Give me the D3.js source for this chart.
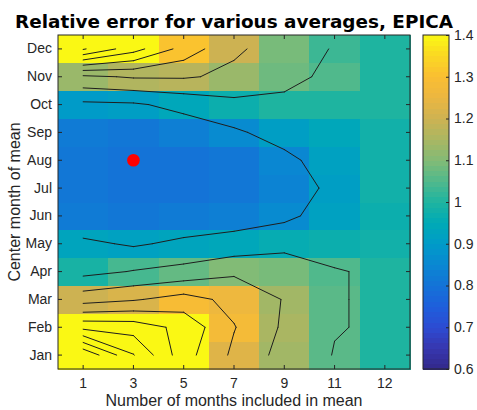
<!DOCTYPE html>
<html>
<head>
<meta charset="utf-8">
<style>
  body { margin: 0; background: #fff; }
  svg text { font-family: "Liberation Sans", Arial, Helvetica, sans-serif; fill: #262626; }
  .title { font-family: "DejaVu Sans", sans-serif; font-weight: bold; fill: #000; }
</style>
</head>
<body>
<div class="heat"></div>
<script src="https://cdn.jsdelivr.net/npm/d3@7"></script>
<script type="text/javascript">

// window lengths shown as image columns, and the months (Jan at the bottom)
var windows = ["1", "3", "5", "7", "9", "11", "12"];
var months = ["Jan", "Feb", "Mar", "Apr", "May", "Jun", "Jul", "Aug", "Sep", "Oct", "Nov", "Dec"];

// relative error shown as coloured cells, one array per centre month
var imgJan = [1.45, 1.45, 1.45, 1.23, 1.14, 1.06, 1.0];
var imgFeb = [1.45, 1.45, 1.45, 1.28, 1.15, 1.06, 1.0];
var imgMar = [1.2, 1.22, 1.29, 1.26, 1.14, 1.06, 1.0];
var imgApr = [0.99, 1.04, 1.07, 1.1, 1.09, 1.05, 1.0];
var imgMay = [0.93, 0.92, 0.93, 0.94, 0.96, 0.97, 0.98];
var imgJun = [0.82, 0.81, 0.82, 0.83, 0.86, 0.92, 0.97];
var imgJul = [0.81, 0.80, 0.80, 0.81, 0.84, 0.91, 0.98];
var imgAug = [0.81, 0.80, 0.80, 0.81, 0.85, 0.92, 0.98];
var imgSep = [0.82, 0.81, 0.83, 0.86, 0.91, 0.94, 0.98];
var imgOct = [0.9, 0.91, 0.94, 0.97, 1.0, 1.0, 1.0];
var imgNov = [1.13, 1.16, 1.17, 1.13, 1.08, 1.05, 1.0];
var imgDec = [1.45, 1.45, 1.31, 1.2, 1.09, 1.03, 1.0];
var imgRows = [imgJan, imgFeb, imgMar, imgApr, imgMay, imgJun, imgJul, imgAug, imgSep, imgOct, imgNov, imgDec];

// the field the black contour lines follow (nodes at the cell centres)
var cntJan = [1.89, 1.605, 1.34, 1.18, 1.064, 0.996, 0.99];
var cntFeb = [1.47, 1.455, 1.37, 1.205, 1.085, 1.004, 0.99];
var cntMar = [1.155, 1.19, 1.24, 1.17, 1.095, 1.006, 0.985];
var cntApr = [0.97, 1.005, 1.03, 1.085, 1.08, 1.004, 0.99];
var cntMay = [0.92, 0.888, 0.92, 0.93, 0.961, 0.975, 0.98];
var cntJun = [0.82, 0.82, 0.83, 0.863, 0.881, 0.94, 0.97];
var cntJul = [0.83, 0.80, 0.81, 0.83, 0.86, 0.918, 0.97];
var cntAug = [0.83, 0.80, 0.80, 0.82, 0.875, 0.95, 0.97];
var cntSep = [0.83, 0.82, 0.84, 0.885, 0.94, 0.96, 0.975];
var cntOct = [0.88, 0.887, 0.93, 0.973, 0.975, 0.985, 0.985];
var cntNov = [1.08, 1.11, 1.11, 1.08, 1.03, 0.975, 0.985];
var cntDec = [1.61, 1.44, 1.262, 1.114, 1.06, 0.992, 0.99];
var cntRows = [cntJan, cntFeb, cntMar, cntApr, cntMay, cntJun, cntJul, cntAug, cntSep, cntOct, cntNov, cntDec];

var contourLevels = [0.9, 1.0, 1.1, 1.2, 1.3, 1.4, 1.5, 1.6, 1.7, 1.8];
var colorTicks = [0.6, 0.7, 0.8, 0.9, 1, 1.1, 1.2, 1.3, 1.4];
var colorRange = [0.6, 1.4];
var marker = { window: "3", month: "Aug" };

// colormap as it shows in the colorbar (parula-like)
var cmapStops = [0.6, 0.65, 0.7, 0.75, 0.8, 0.85, 0.9, 0.95, 1.0, 1.05, 1.1, 1.15, 1.2, 1.25, 1.3, 1.35, 1.4];
var cmapColors = ["#32288a", "#3737af", "#2d4bd2", "#1e5fdc", "#1473d7", "#0a87d2", "#009bc8", "#00aab6",
                  "#1eb4a0", "#50b98c", "#82bb76", "#aab662", "#cdb252", "#ebb641", "#fabe32", "#fad723", "#faf814"];

var W = 477, H = 410;
var plot = { left: 58, right: 410, top: 35, bottom: 369 };
var bar = { left: 423, right: 449 };

var svg = d3.select(".heat").append("svg")
    .attr("width", W)
    .attr("height", H);

var x = d3.scaleBand().domain(windows).range([plot.left, plot.right]);
var y = d3.scaleBand().domain(months.slice().reverse()).range([plot.top, plot.bottom]);
var color = d3.scaleLinear().domain(cmapStops).range(cmapColors).clamp(true);

// flatten into cells
var cells = [];
imgRows.forEach(function(r, i) {
    r.forEach(function(v, j) {
        cells.push({ month: months[i], window: windows[j], value: v });
    });
});

svg.append("g").selectAll("rect")
    .data(cells)
    .enter().append("rect")
    .attr("x", function(d) { return x(d.window); })
    .attr("y", function(d) { return y(d.month); })
    .attr("width", x.bandwidth() + 0.5)
    .attr("height", y.bandwidth() + 0.5)
    .attr("fill", function(d) { return color(d.value); })
    .attr("shape-rendering", "crispEdges");

// contour lines, marching squares between the cell centres
function cx(j) { return x(windows[j]) + x.bandwidth() / 2; }
function cy(i) { return y(months[i]) + y.bandwidth() / 2; }

var segs = [];
contourLevels.forEach(function(L) {
    for (var i = 0; i < cntRows.length - 1; i++) {
        for (var j = 0; j < windows.length - 1; j++) {
            var corners = [
                { v: cntRows[i][j],         px: cx(j),     py: cy(i) },
                { v: cntRows[i][j + 1],     px: cx(j + 1), py: cy(i) },
                { v: cntRows[i + 1][j + 1], px: cx(j + 1), py: cy(i + 1) },
                { v: cntRows[i + 1][j],     px: cx(j),     py: cy(i + 1) }
            ];
            var pts = [];
            for (var k = 0; k < 4; k++) {
                var p = corners[k], q = corners[(k + 1) % 4];
                if ((p.v >= L) !== (q.v >= L)) {
                    var t = (L - p.v) / (q.v - p.v);
                    pts[k] = [p.px + t * (q.px - p.px), p.py + t * (q.py - p.py)];
                }
            }
            var edges = [];
            for (k = 0; k < 4; k++) if (pts[k]) edges.push(k);
            if (edges.length === 2) {
                segs.push([pts[edges[0]], pts[edges[1]]]);
            } else if (edges.length === 4) {
                var centre = (corners[0].v + corners[1].v + corners[2].v + corners[3].v) / 4;
                if ((centre >= L) === (corners[0].v >= L)) {
                    segs.push([pts[0], pts[1]]);
                    segs.push([pts[2], pts[3]]);
                } else {
                    segs.push([pts[3], pts[0]]);
                    segs.push([pts[1], pts[2]]);
                }
            }
        }
    }
});

svg.append("g").selectAll("line")
    .data(segs)
    .enter().append("line")
    .attr("x1", function(d) { return d[0][0]; })
    .attr("y1", function(d) { return d[0][1]; })
    .attr("x2", function(d) { return d[1][0]; })
    .attr("y2", function(d) { return d[1][1]; })
    .attr("stroke", "#1e1e1e")
    .attr("stroke-width", 1)
    .attr("stroke-linecap", "round");

// red marker
svg.append("circle")
    .attr("cx", x(marker.window) + x.bandwidth() / 2)
    .attr("cy", y(marker.month) + y.bandwidth() / 2)
    .attr("r", 6.3)
    .attr("fill", "#ff0000");

// axes, ticks pointing inward like matlab
function styleAxis(g) {
    g.selectAll(".domain").remove();
    g.selectAll("line").attr("stroke", "#262626");
    g.selectAll("text").attr("font-size", "14px").attr("font-family", "Liberation Sans, Arial, sans-serif").attr("fill", "#262626");
}

svg.append("g")
    .attr("transform", "translate(0," + plot.bottom + ")")
    .call(d3.axisBottom(x).tickSizeInner(-4).tickSizeOuter(0).tickPadding(9))
    .call(styleAxis);
svg.append("g")
    .attr("transform", "translate(0," + plot.top + ")")
    .call(d3.axisTop(x).tickSizeInner(-4).tickSizeOuter(0).tickFormat(""))
    .call(styleAxis);
svg.append("g")
    .attr("transform", "translate(" + plot.left + ",0)")
    .call(d3.axisLeft(y).tickSizeInner(-4).tickSizeOuter(0).tickPadding(6))
    .call(styleAxis);
svg.append("g")
    .attr("transform", "translate(" + plot.right + ",0)")
    .call(d3.axisRight(y).tickSizeInner(-4).tickSizeOuter(0).tickFormat(""))
    .call(styleAxis);

svg.append("rect")
    .attr("x", plot.left).attr("y", plot.top)
    .attr("width", plot.right - plot.left).attr("height", plot.bottom - plot.top)
    .attr("fill", "none").attr("stroke", "#262626").attr("stroke-width", 1);

// colorbar, 64 steps like a matlab colormap
var cb = d3.scaleLinear().domain(colorRange).range([plot.bottom, plot.top]);
var nSteps = 64;
var step = (colorRange[1] - colorRange[0]) / nSteps;
svg.append("g").selectAll("rect")
    .data(d3.range(nSteps))
    .enter().append("rect")
    .attr("x", bar.left)
    .attr("width", bar.right - bar.left)
    .attr("y", function(i) { return cb(colorRange[0] + (i + 1) * step); })
    .attr("height", function(i) { return cb(colorRange[0] + i * step) - cb(colorRange[0] + (i + 1) * step) + 0.5; })
    .attr("fill", function(i) { return color(colorRange[0] + (i + 0.5) * step); })
    .attr("shape-rendering", "crispEdges");

svg.append("g")
    .attr("transform", "translate(" + bar.right + ",0)")
    .call(d3.axisRight(cb).tickValues(colorTicks).tickSizeInner(-3).tickSizeOuter(0).tickPadding(5).tickFormat(d3.format("")))
    .call(styleAxis);

svg.append("rect")
    .attr("x", bar.left).attr("y", plot.top)
    .attr("width", bar.right - bar.left).attr("height", plot.bottom - plot.top)
    .attr("fill", "none").attr("stroke", "#262626").attr("stroke-width", 1);

// labels
svg.append("text")
    .attr("class", "title")
    .attr("x", (plot.left + plot.right) / 2)
    .attr("y", 28)
    .attr("text-anchor", "middle")
    .attr("font-size", "18.4px")
    .text("Relative error for various averages, EPICA");

svg.append("text")
    .attr("x", (plot.left + plot.right) / 2)
    .attr("y", 406)
    .attr("text-anchor", "middle")
    .attr("font-size", "16px")
    .text("Number of months included in mean");

svg.append("text")
    .attr("transform", "translate(20," + (plot.top + plot.bottom) / 2 + ") rotate(-90)")
    .attr("text-anchor", "middle")
    .attr("font-size", "16px")
    .text("Center month of mean");

</script>
</body>
</html>
